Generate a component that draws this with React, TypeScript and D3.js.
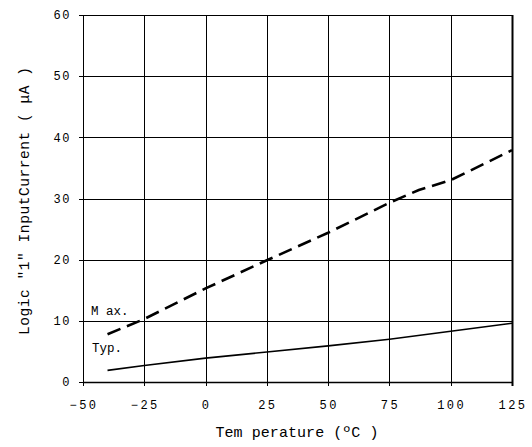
import React from "react";
import * as d3 from "d3";

const xTicks = [-50, -25, 0, 25, 50, 75, 100, 125];
const yTicks = [0, 10, 20, 30, 40, 50, 60];

const maxTemps = [-40, -25, 0, 25, 50, 75, 87, 100, 125];
const maxValues = [7.8, 10.3, 15.3, 19.9, 24.4, 29.3, 31.4, 33.0, 37.9];

const typTemps = [-40, -25, 0, 25, 50, 75, 100, 125];
const typValues = [1.9, 2.7, 3.9, 4.9, 5.9, 7.0, 8.3, 9.6];

const xTitle = "Tem perature (ºC )";
const yTitle = 'Logic "1" InputCurrent ( μA )';
const maxLabel = "M ax.";
const typLabel = "Typ.";

export default function App() {
  const W = 532, H = 447;
  const x = d3.scaleLinear().domain([-50, 125]).range([83, 512]);
  const y = d3.scaleLinear().domain([0, 60]).range([382, 15]);
  const line = d3.line<[number, number]>().x(d => x(d[0])).y(d => y(d[1]));
  const maxPts: [number, number][] = maxTemps.map((t, i) => [t, maxValues[i]]);
  const typPts: [number, number][] = typTemps.map((t, i) => [t, typValues[i]]);
  const font = "'Liberation Mono', 'Courier New', monospace";
  const cx = (a: number) => Math.round(a) + 0.5;

  return (
    <svg width={W} height={H} style={{ position: "absolute", left: 0, top: 0, background: "#fff" }}>
      <rect x={0} y={0} width={W} height={H} fill="#fff" />
      {/* grid */}
      {xTicks.map(t => (
        <line key={"gx" + t} x1={cx(x(t))} x2={cx(x(t))} y1={y(60)} y2={y(0) + 4} stroke="#000" strokeWidth={1} />
      ))}
      {yTicks.map(t => (
        <line key={"gy" + t} x1={x(-50) - 4} x2={x(125)} y1={cx(y(t))} y2={cx(y(t))} stroke="#000" strokeWidth={1} />
      ))}
      <line x1={cx(x(125))} x2={cx(x(125))} y1={y(60)} y2={y(0) + 4} stroke="#000" strokeWidth={2} />
      <line x1={x(-50)} x2={x(125)} y1={cx(y(0))} y2={cx(y(0))} stroke="#000" strokeWidth={1.5} />
      {/* tick labels */}
      {yTicks.map(t => (
        <text key={"ly" + t} x={71} y={y(t)} dy="0.35em" textAnchor="end" fontFamily={font} fontSize={12} letterSpacing={1.5} fill="#000">
          {t}
        </text>
      ))}
      {xTicks.map(t => (
        <text key={"lx" + t} x={x(t) + 1} y={409} textAnchor="middle" fontFamily={font} fontSize={12} letterSpacing={2.5} fill="#000">
          {t < 0 ? "−" + Math.abs(t) : String(t)}
        </text>
      ))}
      {/* series */}
      <path d={line(maxPts) || ""} fill="none" stroke="#000" strokeWidth={2.6} strokeDasharray="14,7" />
      <path d={line(typPts) || ""} fill="none" stroke="#000" strokeWidth={1.6} />
      <text x={91} y={315} fontFamily={font} fontSize={12.5} fill="#000">{maxLabel}</text>
      <text x={92} y={352} fontFamily={font} fontSize={12.5} fill="#000">{typLabel}</text>
      {/* titles */}
      <text x={297} y={437} textAnchor="middle" fontFamily={font} fontSize={15} textLength={163} lengthAdjust="spacing" fill="#000">
        {xTitle}
      </text>
      <text transform="translate(29,201) rotate(-90)" textAnchor="middle" fontFamily={font} fontSize={14.5} textLength={268} lengthAdjust="spacing" fill="#000">
        {yTitle}
      </text>
    </svg>
  );
}
